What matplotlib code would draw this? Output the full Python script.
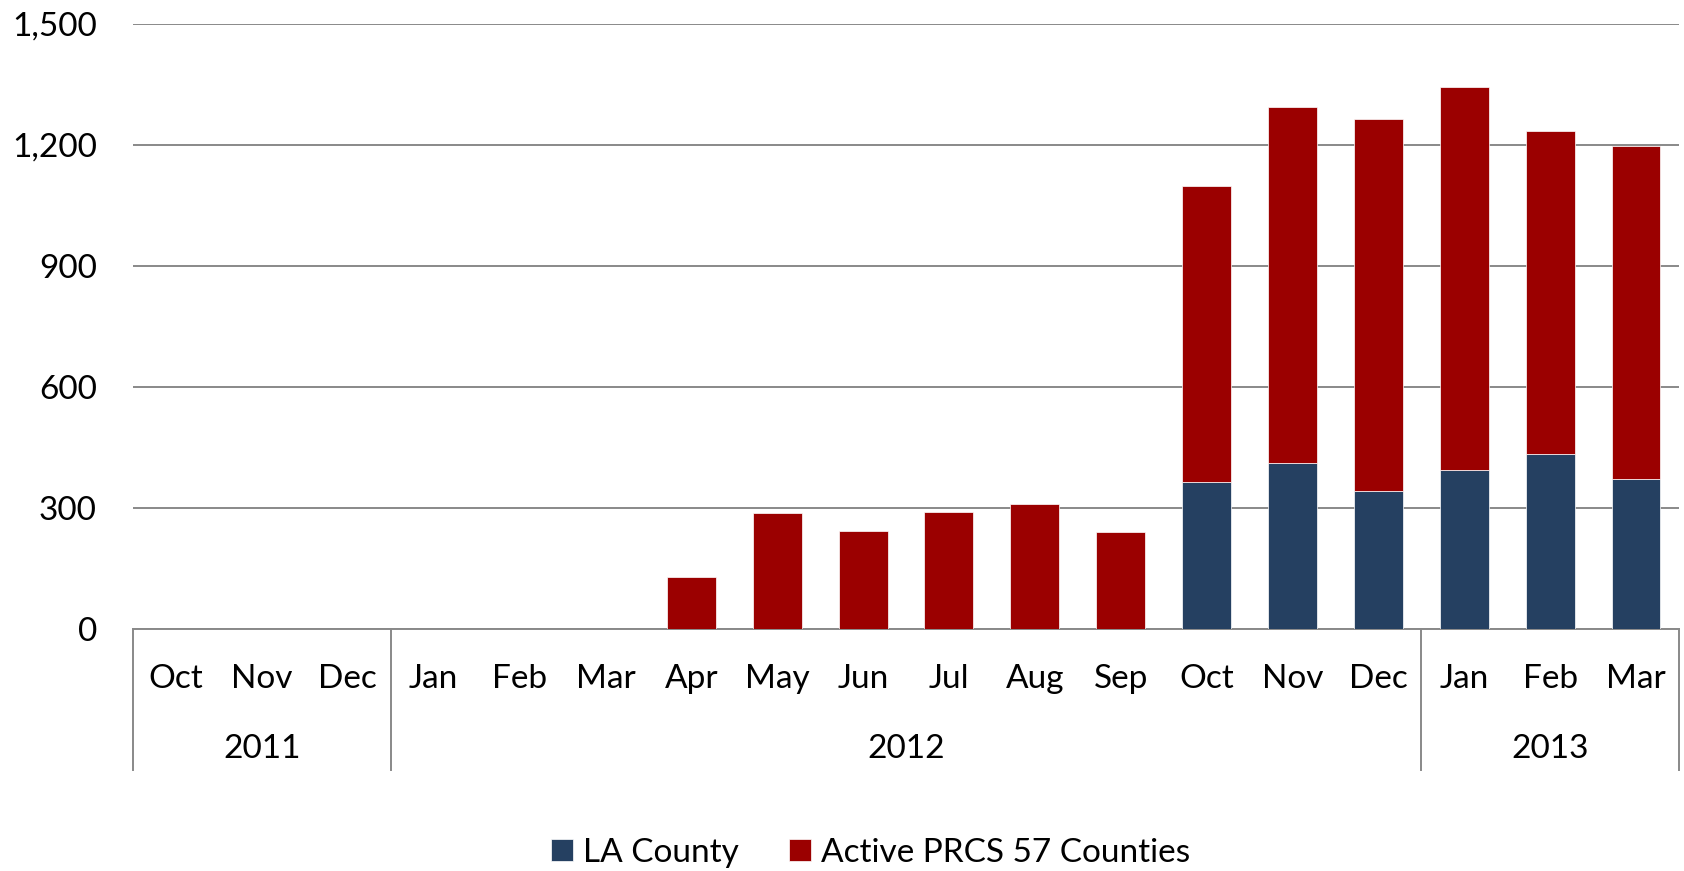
import matplotlib
matplotlib.use("Agg")
from matplotlib import pyplot as plt
from matplotlib.transforms import blended_transform_factory
import numpy as np

# ---- chart data
months = ["Oct", "Nov", "Dec",
          "Jan", "Feb", "Mar", "Apr", "May", "Jun",
          "Jul", "Aug", "Sep", "Oct", "Nov", "Dec",
          "Jan", "Feb", "Mar"]
years = ["2011", "2012", "2013"]
year_counts = [3, 12, 3]
la_county = [0, 0, 0, 0, 0, 0, 0, 0, 0, 0, 0, 0, 366, 413, 343, 395, 435, 373]
active_prcs = [0, 0, 0, 0, 0, 0, 130, 289, 244, 291, 311, 242,
               732, 880, 922, 948, 800, 824]
y_ticks = [0, 300, 600, 900, 1200, 1500]

NAVY = "#254061"
RED = "#9b0000"
GRID = "#898989"

plt.rcParams["font.family"] = ["Lato", "DejaVu Sans"]
FS = 24

fig = plt.figure(figsize=(16.84, 8.71), dpi=100)
ax = fig.add_axes([0.079, 0.2774, 0.918, 0.6955])

x = np.arange(len(months))
b1 = ax.bar(x, la_county, width=0.57, color=NAVY, edgecolor="white",
            linewidth=0.5, label="LA County", zorder=3)
b2 = ax.bar(x, active_prcs, width=0.57, bottom=la_county, color=RED,
            edgecolor="white", linewidth=0.5,
            label="Active PRCS 57 Counties", zorder=3)

ax.set_xlim(-0.5, len(months) - 0.5)
ax.set_ylim(0, 1500)
ax.set_yticks(y_ticks)
ax.set_yticklabels([f"{v:,}" for v in y_ticks], fontsize=FS)
ax.tick_params(axis="y", length=0, pad=26)
ax.set_xticks([])
ax.yaxis.grid(True, color=GRID, linewidth=1.4, zorder=0)
for side in ["top", "right", "left"]:
    ax.spines[side].set_visible(False)
ax.spines["bottom"].set_color(GRID)
ax.spines["bottom"].set_linewidth(1.4)

# ---- two-level category axis
trans = blended_transform_factory(ax.transData, ax.transAxes)
for i, m in enumerate(months):
    ax.text(i, -0.082, m, transform=trans, ha="center", va="center",
            fontsize=FS)
edges = np.concatenate([[0], np.cumsum(year_counts)]) - 0.5
for k, yr in enumerate(years):
    mid = (edges[k] + edges[k + 1]) / 2
    ax.text(mid, -0.197, yr, transform=trans, ha="center", va="center",
            fontsize=FS)
for e in edges:
    ax.plot([e, e], [0, -0.232], transform=trans, color=GRID,
            linewidth=1.4, clip_on=False)

fig.legend(handles=[b1, b2], loc="center", bbox_to_anchor=(0.517, 0.021),
           ncol=2, frameon=False, fontsize=FS, handlelength=0.65,
           handleheight=0.65, handletextpad=0.3, columnspacing=1.5,
           borderpad=0)

plt.savefig("out.png", dpi=100)
